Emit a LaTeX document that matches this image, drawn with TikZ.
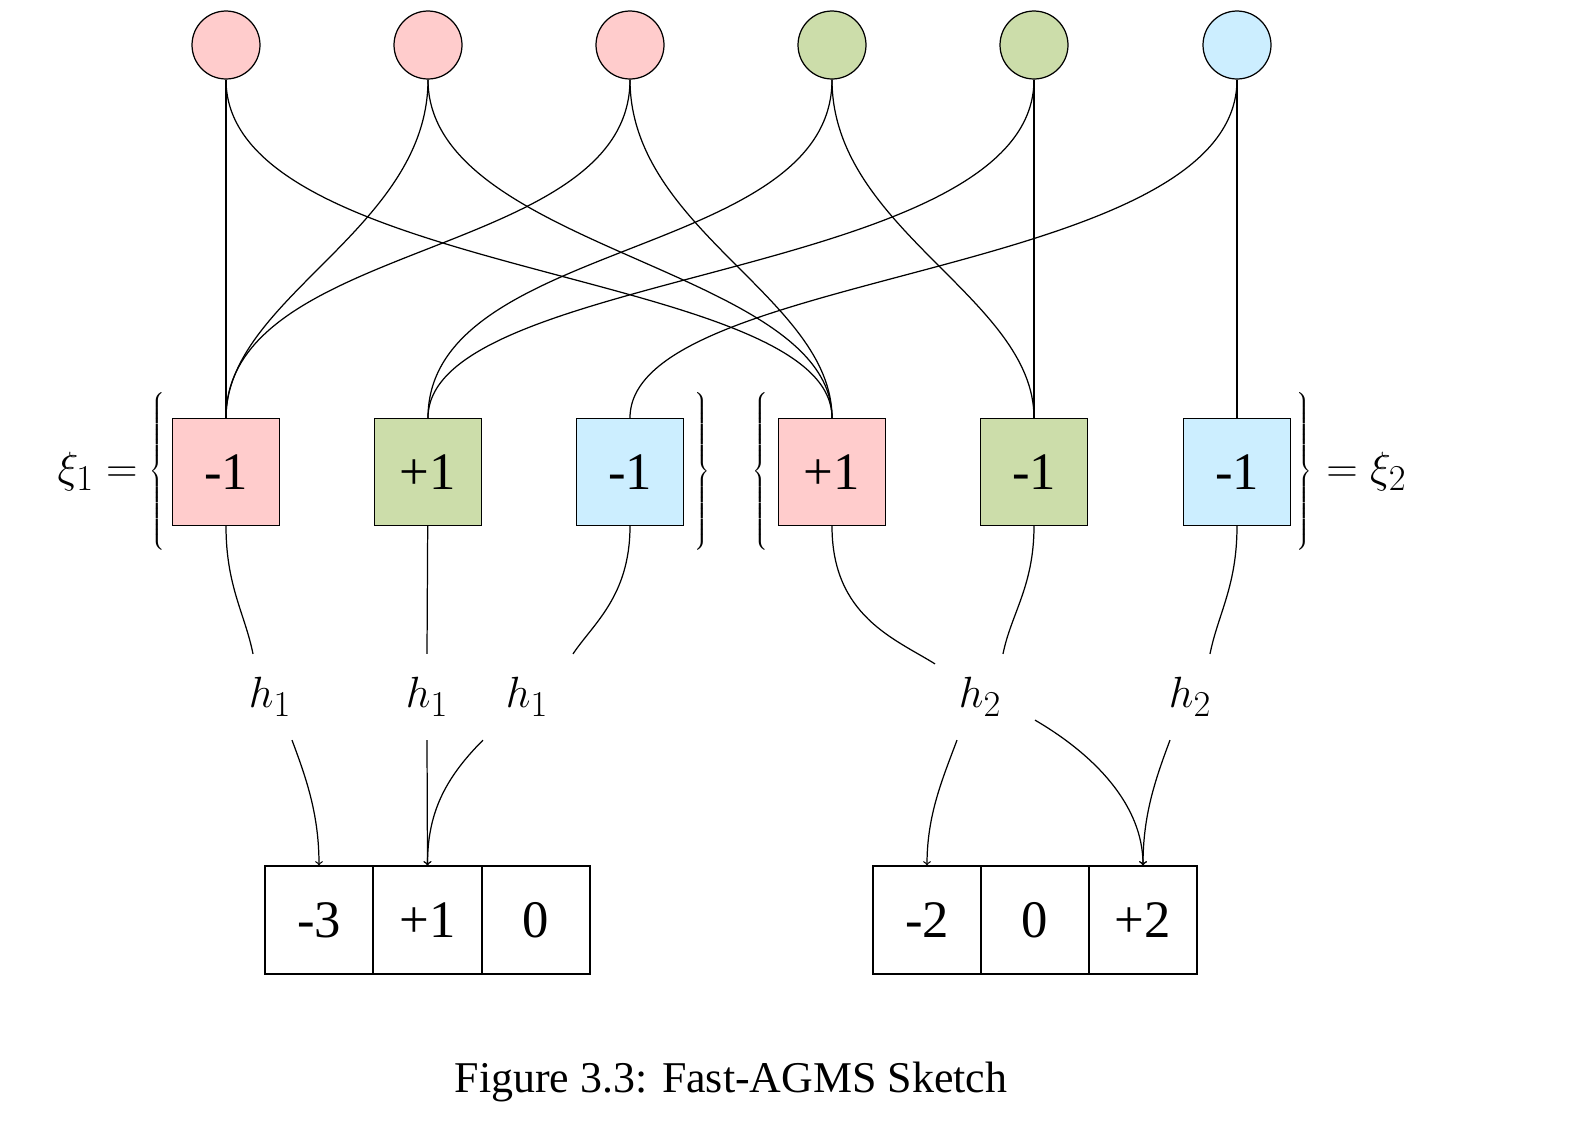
\documentclass[tikz,border=0pt]{standalone}
\usepackage{fontspec}
\setmainfont{Liberation Serif}
\usetikzlibrary{calc}
\definecolor{pinkc}{RGB}{255,204,204}
\definecolor{greenc}{RGB}{204,221,170}
\definecolor{bluec}{RGB}{204,238,255}
\tikzset{
  elem/.style={circle,draw,minimum size=1.36cm,inner sep=0pt},
  sign/.style={draw,minimum size=2.14cm,inner sep=0pt,font=\fontsize{30}{36}\selectfont},
  cell/.style={draw,minimum size=2.16cm,inner sep=0pt,font=\fontsize{30}{36}\selectfont},
  hash/.style={minimum width=1.7cm,minimum height=1.7cm,inner sep=0pt,font=\fontsize{32}{38}\selectfont},
  brace/.style={inner sep=0pt,font=\fontsize{32}{38}\selectfont}
}
\newcommand{\bigbrace}[1]{$\left#1\vrule height 1.38cm depth 1.38cm width 0pt\right.$}
\begin{document}
\begin{tikzpicture}[x=0.02cm,y=-0.02cm,line width=0.7pt]
% stream elements
\node[elem,fill=pinkc]  (c1) at (226,45) {};
\node[elem,fill=pinkc]  (c2) at (428,45) {};
\node[elem,fill=pinkc]  (c3) at (630,45) {};
\node[elem,fill=greenc] (c4) at (832,45) {};
\node[elem,fill=greenc] (c5) at (1034,45) {};
\node[elem,fill=bluec]  (c6) at (1237,45) {};

% sign vectors
\node[sign,fill=pinkc]  (s1) at (226,472) {-1};
\node[sign,fill=greenc] (s2) at (428,472) {+1};
\node[sign,fill=bluec]  (s3) at (630,472) {-1};
\node[sign,fill=pinkc]  (s4) at (832,472) {+1};
\node[sign,fill=greenc] (s5) at (1034,472) {-1};
\node[sign,fill=bluec]  (s6) at (1237,472) {-1};

\node[brace,anchor=east] (xl) at (168,472) {$\xi_1={}$\bigbrace\{};
\node[brace] (b1r) at (703,472) {\bigbrace\}};
\node[brace] (b2l) at (761,472) {\bigbrace\{};
\node[brace,anchor=west] (xr) at (1296,472) {\bigbrace\}$\;=\xi_2$};

% element to sign
\draw (c1) -- (s1);
\draw (c1.south) .. controls +(0,200) and +(0,-150) .. (s4.north);
\draw (c2.south) .. controls +(0,150) and +(0,-120) .. (s1.north);
\draw (c2.south) .. controls +(0,170) and +(0,-150) .. (s4.north);
\draw (c3.south) .. controls +(0,180) and +(0,-180) .. (s1.north);
\draw (c3.south) .. controls +(0,150) and +(0,-120) .. (s4.north);
\draw (c4.south) .. controls +(0,180) and +(0,-180) .. (s2.north);
\draw (c4.south) .. controls +(0,150) and +(0,-120) .. (s5.north);
\draw (c5.south) .. controls +(0,200) and +(0,-150) .. (s2.north);
\draw (c5) -- (s5);
\draw (c6.south) .. controls +(0,200) and +(0,-150) .. (s3.north);
\draw (c6) -- (s6);

% hash functions
\node[hash] (h1) at (270,697) {$h_1$};
\node[hash] (h2) at (427,697) {$h_1$};
\node[hash] (h3) at (527,697) {$h_1$};
\node[hash] (h4) at (980,697) {$h_2$};
\node[hash] (h5) at (1190,697) {$h_2$};

\draw (s1.south) .. controls +(0,60) and +(-8,-40) .. ($(h1.north)+(-17,0)$);
\draw (s2) -- (h2.north);
\draw (s3.south) .. controls +(0,70) and +(20,-30) .. ($(h3.north)+(46,0)$);
\draw (s4.south) .. controls +(0,90) and +(-40,-25) .. ($(h4.north)+(-45,10)$);
\draw (s5.south) .. controls +(0,60) and +(8,-40) .. ($(h4.north)+(23,0)$);
\draw (s6.south) .. controls +(0,60) and +(8,-40) .. ($(h5.north)+(20,0)$);

% counters
\node[cell] (a1) at (319,920) {-3};
\node[cell] (a2) at (427.5,920) {+1};
\node[cell] (a3) at (536,920) {0};
\node[cell] (d1) at (927,920) {-2};
\node[cell] (d2) at (1035,920) {0};
\node[cell] (d3) at (1143,920) {+2};

\draw[->] ($(h1.south)+(22,0)$) .. controls +(15,40) and +(0,-50) .. (a1.north);
\draw[->] (h2.south) -- (a2.north);
\draw[->] ($(h3.south)+(-44,0)$) .. controls +(-40,40) and +(0,-50) .. (a2.north);
\draw[->] ($(h4.south)+(-23,0)$) .. controls +(-15,40) and +(0,-50) .. (d1.north);
\draw[->] ($(h4.south)+(55,-20)$) .. controls +(60,35) and +(0,-60) .. (d3.north);
\draw[->] ($(h5.south)+(-20,0)$) .. controls +(-15,40) and +(0,-50) .. (d3.north);

\node[font=\fontsize{25}{30}\selectfont] (cap) at (731,1082) {Figure 3.3: Fast-AGMS Sketch};
\pgfresetboundingbox
\useasboundingbox (0,0) rectangle (1586,1123);
\end{tikzpicture}
\end{document}
